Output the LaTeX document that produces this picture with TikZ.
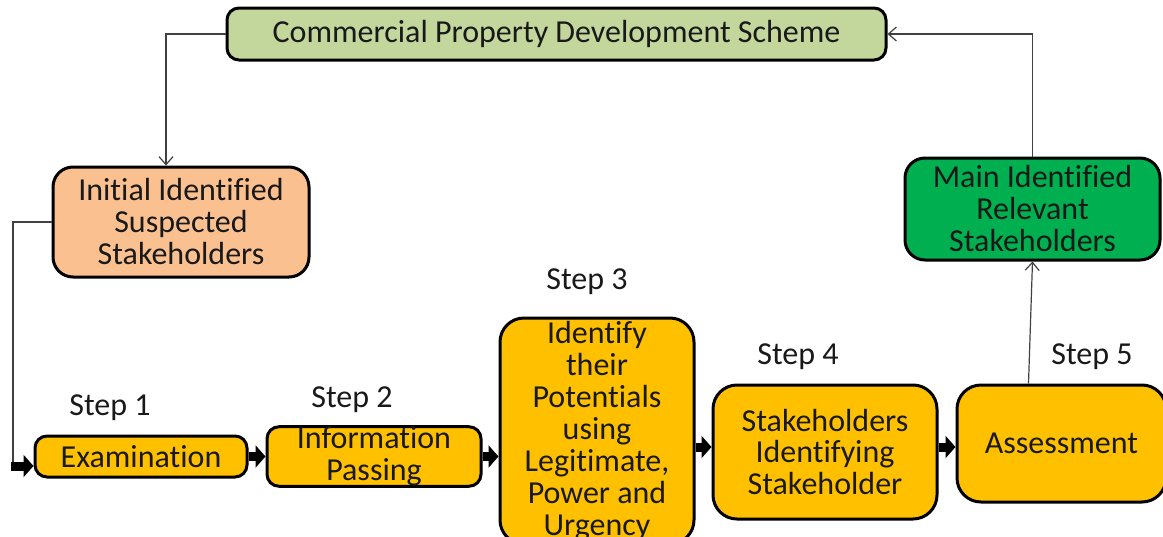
\documentclass[tikz,border=0pt]{standalone}
\usepackage{fontspec}
\setmainfont{Carlito}[Ligatures=NoCommon]
\usepackage{xcolor}
\usepackage{tikz}
\usetikzlibrary{arrows.meta}
\usetikzlibrary{positioning,calc}

\definecolor{schemegreen}{HTML}{C3D69B}
\definecolor{suspectpeach}{HTML}{FAC090}
\definecolor{relevantgreen}{HTML}{00B050}
\definecolor{stepamber}{HTML}{FFC000}
\definecolor{linkgrey}{HTML}{404040}

\tikzset{
    step box/.style={
        draw,
        line width=1.5pt,
        rounded corners=6pt,
        fill=stepamber,
        align=center,
        inner sep=0pt,
        text=black!90,
        font=\fontsize{16}{16}\selectfont
    },
    step label/.style={
        inner sep=0pt,
        text=black!90,
        font=\fontsize{16}{16}\selectfont
    },
    thin link/.style={
        draw=linkgrey,
        line width=0.6pt,
        -{Straight Barb[length=4pt,width=7pt]}
    },
    thick link/.style={
        draw=black,
        line width=4.5pt,
        -{Triangle[length=5pt,width=11pt]}
    }
}

\begin{document}
\begin{tikzpicture}[x=0.5pt,y=-0.5pt]
    \useasboundingbox (0,0) rectangle (1163,536);
    \clip (0,0) rectangle (1163,536);

    \node[step box, fill=schemegreen, minimum width=329.5pt, minimum height=26pt] (scheme) at (556.5,34)
        {Commercial Property Development Scheme};
    \node[step box, fill=suspectpeach, rounded corners=10pt, minimum width=128pt, minimum height=55pt] (suspected) at (181,222)
        {Initial Identified\\Suspected\\Stakeholders};
    \node[step box, fill=relevantgreen, rounded corners=10pt, minimum width=127.5pt, minimum height=51pt] (relevant) at (1032.5,209)
        {Main Identified\\Relevant\\Stakeholders};

    \node[step box, minimum width=106pt, minimum height=20.5pt] (exam) at (141,456.5) {Examination};
    \node[step box, minimum width=107pt, minimum height=29.5pt] (info) at (374,456.5) {Information\\Passing};
    \node[step box, rounded corners=12pt, minimum width=97pt, minimum height=113pt] (potential) at (597,431)
        {Identify\\their\\Potentials\\using\\Legitimate,\\Power and\\Urgency};
    \node[step box, rounded corners=12pt, minimum width=112pt, minimum height=67pt] (identify) at (825,452)
        {Stakeholders\\Identifying\\Stakeholder};
    \node[step box, rounded corners=12pt, minimum width=104.5pt, minimum height=58.5pt] (assess) at (1061.5,443.5) {Assessment};

    \foreach \n/\x/\y in {1/110/408,2/352/400,3/587/282,4/798/357,5/1092/357}
        \node[step label] (step\n) at (\x,\y) {Step \n};

    \coordinate (entry) at (13,466);
    \draw[thin link] (scheme.west) -| ([xshift=-7.5pt]suspected.north);
    \draw[thin link] (relevant.north) |- (scheme.east);
    \draw[thin link] ([xshift=-16.5pt]assess.north) -- (relevant.south);
    \draw[draw=linkgrey, line width=0.6pt] (suspected.west) -| (entry);

    \draw[thick link] ([xshift=-1pt]entry) -- (entry -| exam.west);
    \draw[thick link] (exam.east) -- (info.west);
    \draw[thick link] (info.east) -- (info.east -| potential.west);
    \draw[thick link] ([yshift=2.5pt]identify.west -| potential.east) -- ([yshift=2.5pt]identify.west);
    \draw[thick link] ([yshift=2.5pt]identify.east) -- ([yshift=2.5pt]identify.east -| assess.west);
\end{tikzpicture}
\end{document}
